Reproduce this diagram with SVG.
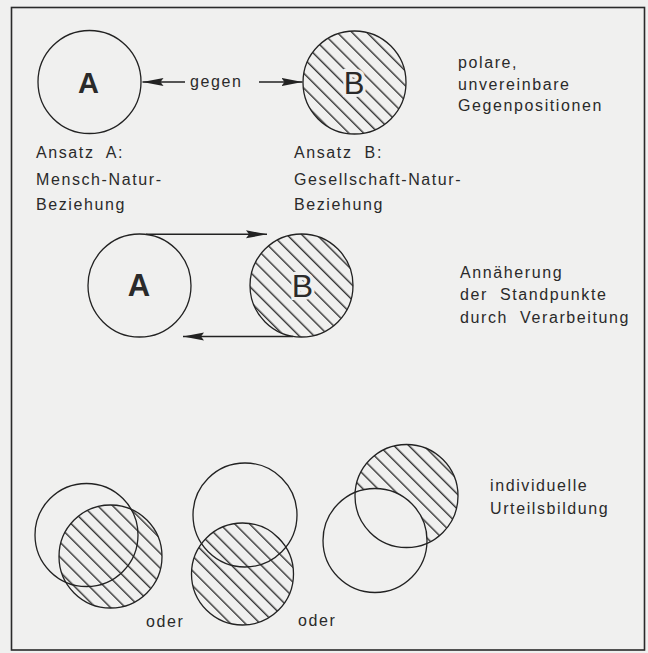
<svg xmlns="http://www.w3.org/2000/svg" width="648" height="653" viewBox="0 0 648 653">
<style>
  .bg { fill: #f0f0ef; }
  .frame { fill: none; stroke: #2a2a2a; stroke-width: 1.6; }
  .ring { fill: none; stroke: #222; stroke-width: 1.3; }
  .hatch { fill: url(#hatch); stroke: none; }
  .cover { fill: #f0f0ef; stroke: none; }
  .lbl { font-family: "Liberation Sans", Arial, Helvetica, sans-serif; font-size: 16px; letter-spacing: 1.6px; fill: #2a2a2a; }
  .big { font-family: "Liberation Sans", Arial, Helvetica, sans-serif; fill: #2a2a2a; text-anchor: middle; }
  .bigB { stroke: #f0f0ef; stroke-width: 6; paint-order: stroke; }
  .conn { stroke: #222; stroke-width: 1.4; fill: none; }
</style>
<defs>
  <pattern id="hatch" patternUnits="userSpaceOnUse" width="10.5" height="10.5" patternTransform="rotate(45)">
    <line x1="0" y1="5" x2="10.5" y2="5" stroke="#222" stroke-width="1.3"/>
  </pattern>
  <marker id="arrow" markerUnits="userSpaceOnUse" markerWidth="22" markerHeight="9" refX="21" refY="4.5" orient="auto">
    <path d="M0,0.5 L21,4.5 L0,8.5 L3,4.5 z" fill="#222"/>
  </marker>
</defs>
<rect class="bg" x="0" y="0" width="648" height="653"/>
<rect class="frame" x="11.5" y="7.5" width="633" height="642.5"/>

<g id="node-top-A">
  <circle class="ring" cx="89.5" cy="82" r="51.5"/>
  <text class="big" x="88.5" y="93" font-size="29" font-weight="bold">A</text>
</g>
<g id="node-top-B">
  <circle class="hatch" cx="354.5" cy="82.5" r="51.5"/>
  <circle class="ring" cx="354.5" cy="82.5" r="51.5"/>
  <text class="big bigB" x="354" y="94" font-size="31">B</text>
</g>
<g id="node-mid-A">
  <circle class="ring" cx="139.5" cy="285.5" r="51.5"/>
  <text class="big" x="139" y="296" font-size="31" font-weight="bold">A</text>
</g>
<g id="node-mid-B">
  <circle class="hatch" cx="301.5" cy="285.5" r="51.5"/>
  <circle class="ring" cx="301.5" cy="285.5" r="51.5"/>
  <text class="big bigB" x="302.5" y="297" font-size="32">B</text>
</g>
<g id="node-combo-1">
  <circle class="hatch" cx="110.5" cy="556.5" r="51.5"/>
  <circle class="ring" cx="86.5" cy="535" r="51.5"/>
  <circle class="ring" cx="110.5" cy="556.5" r="51.5"/>
</g>
<g id="node-combo-2">
  <circle class="hatch" cx="242.5" cy="574" r="51"/>
  <circle class="ring" cx="245" cy="515" r="52"/>
  <circle class="ring" cx="242.5" cy="574" r="51"/>
</g>
<g id="node-combo-3">
  <circle class="hatch" cx="406.5" cy="496" r="51.5"/>
  <circle class="cover" cx="375" cy="540.5" r="52"/>
  <circle class="ring" cx="406.5" cy="496" r="51.5"/>
  <circle class="ring" cx="375" cy="540.5" r="52"/>
</g>

<g id="connectors">
  <line class="conn" x1="185" y1="82" x2="142.5" y2="82" marker-end="url(#arrow)"/>
  <line class="conn" x1="259" y1="82" x2="302.5" y2="82" marker-end="url(#arrow)"/>
  <line class="conn" x1="146" y1="234.3" x2="267" y2="234.3" marker-end="url(#arrow)"/>
  <line class="conn" x1="293" y1="336.5" x2="183" y2="336.5" marker-end="url(#arrow)"/>
</g>

<g id="labels">
  <text class="lbl" x="190" y="87" letter-spacing="3.1">gegen</text>
  <text class="lbl" x="458" y="68">polare,</text>
  <text class="lbl" x="458" y="90">unvereinbare</text>
  <text class="lbl" x="458" y="111">Gegenpositionen</text>
  <text class="lbl" x="36" y="158" xml:space="preserve">Ansatz  A:</text>
  <text class="lbl" x="36" y="185">Mensch-Natur-</text>
  <text class="lbl" x="36" y="210">Beziehung</text>
  <text class="lbl" x="294" y="158" xml:space="preserve">Ansatz  B:</text>
  <text class="lbl" x="294" y="185">Gesellschaft-Natur-</text>
  <text class="lbl" x="294" y="210">Beziehung</text>
  <text class="lbl" x="460" y="278">Annäherung</text>
  <text class="lbl" x="460" y="300" xml:space="preserve">der  Standpunkte</text>
  <text class="lbl" x="460" y="323" xml:space="preserve">durch  Verarbeitung</text>
  <text class="lbl" x="490" y="491">individuelle</text>
  <text class="lbl" x="490" y="514">Urteilsbildung</text>
  <text class="lbl" x="146" y="627">oder</text>
  <text class="lbl" x="298" y="626">oder</text>
</g>
</svg>
